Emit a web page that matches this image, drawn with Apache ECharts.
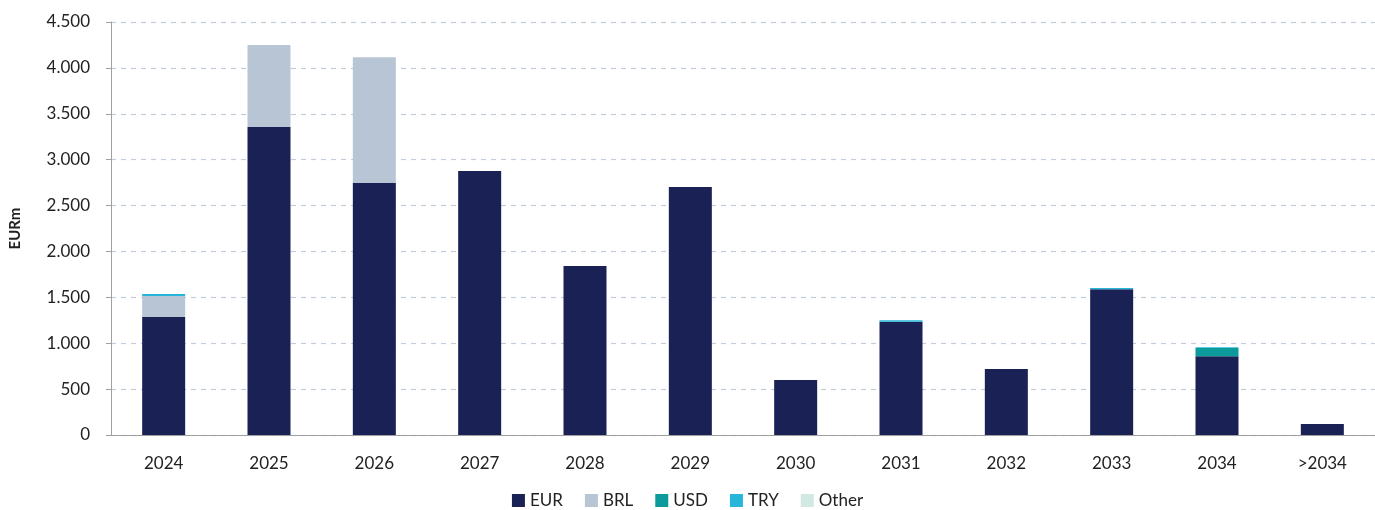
<!DOCTYPE html>
<html lang="en">
  <head>
    <meta charset="UTF-8" />
    <title>Debt maturity profile</title>
    <script src="https://cdn.jsdelivr.net/npm/echarts@6/dist/echarts.min.js"></script>
    <style>
      html, body { margin: 0; padding: 0; background: #fff; }
    </style>
  </head>
  <body>
    <div id="chart" style="width: 1375px; height: 510px"></div>
  </body>
  <script>
    // maturity years
    let years = ["2024", "2025", "2026", "2027", "2028", "2029", "2030", "2031", "2032", "2033", "2034", ">2034"];
    // EURm by currency
    let eur = [1286, 3355, 2746, 2876, 1841, 2702, 599, 1234, 719, 1587, 857, 120];
    let brl = [228, 894, 1369, 0, 0, 0, 0, 0, 0, 0, 0, 0];
    let usd = [0, 0, 0, 0, 0, 0, 0, 0, 0, 0, 90, 0];
    let tryv = [22, 0, 0, 0, 0, 0, 0, 15, 0, 15, 10, 0];
    let other = [0, 0, 0, 0, 0, 0, 0, 0, 0, 0, 0, 0];

    let names = ["EUR", "BRL", "USD", "TRY", "Other"];
    let colors = ["#1a2155", "#b8c5d5", "#0d9a9c", "#27b6d9", "#d2e8e3"];
    let values = [eur, brl, usd, tryv, other];

    let font = "Lato, 'Open Sans', sans-serif";

    let chart = echarts.init(document.getElementById("chart"));
    chart.setOption({
      backgroundColor: "#fff",
      animation: false,
      grid: { left: 111, right: 0, top: 22, bottom: 75 },
      legend: {
        bottom: -4,
        left: "center",
        itemWidth: 13,
        itemHeight: 13,
        itemGap: 22,
        icon: "rect",
        textStyle: { fontFamily: font, fontSize: 17, color: "#222" },
        data: names,
      },
      xAxis: {
        type: "category",
        data: years,
        axisLine: { lineStyle: { color: "#a0a0a0" } },
        axisTick: { show: false },
        axisLabel: { fontFamily: font, fontSize: 17, color: "#222", margin: 20 },
      },
      yAxis: {
        type: "value",
        min: 0,
        max: 4500,
        interval: 500,
        name: "EURm",
        nameLocation: "middle",
        nameGap: 88,
        nameTextStyle: { fontFamily: font, fontSize: 15, fontWeight: "bold", color: "#222" },
        axisLine: { show: true, lineStyle: { color: "#a0a0a0" } },
        axisTick: { show: true, length: 5, lineStyle: { color: "#a0a0a0" } },
        axisLabel: {
          fontFamily: font,
          fontSize: 17,
          color: "#222",
          margin: 21,
          formatter: (v) => v.toString().replace(/\B(?=(\d{3})+(?!\d))/g, "."),
        },
        splitLine: { lineStyle: { color: "#c3ccd8", type: [5, 5], width: 1.2 } },
      },
      series: names.map((n, i) => ({
        name: n,
        type: "bar",
        stack: "total",
        barWidth: 43,
        itemStyle: { color: colors[i] },
        data: values[i],
      })),
    });
  </script>
</html>
